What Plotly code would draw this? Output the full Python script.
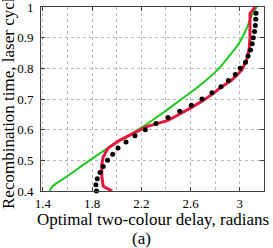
import plotly.graph_objects as go

# Green curve
green_x = [1.452, 1.465, 1.48, 1.60, 1.78, 1.94, 2.19, 2.351, 2.514, 2.677, 2.82, 2.92, 3.0, 3.056, 3.097, 3.138]
green_y = [0.40, 0.408, 0.416, 0.449, 0.500, 0.543, 0.604, 0.648, 0.696, 0.745, 0.795, 0.843, 0.886, 0.93, 0.973, 1.0]

# Red curve
red_x = [1.962, 1.89, 1.878, 1.878, 1.89, 1.93, 2.026, 2.134, 2.243, 2.417, 2.512, 2.606, 2.693, 2.774, 2.847,
         2.935, 3.016, 3.056, 3.077, 3.083, 3.083, 3.124]
red_y = [0.40, 0.415, 0.45, 0.485, 0.512, 0.54, 0.566, 0.588, 0.61, 0.63, 0.65, 0.672, 0.693, 0.715, 0.738,
         0.762, 0.794, 0.827, 0.865, 0.897, 0.979, 1.0]

# Black dots
dot_y = [0.40, 0.42, 0.44, 0.46, 0.48, 0.50, 0.52, 0.54, 0.56, 0.58, 0.60, 0.62, 0.64, 0.66, 0.68,
         0.70, 0.72, 0.74, 0.76, 0.78, 0.80, 0.82, 0.84, 0.86, 0.88, 0.90, 0.92, 0.94, 0.96, 0.98]
dot_x = [1.835, 1.83, 1.842, 1.864, 1.89, 1.925, 1.967, 2.01, 2.075, 2.148, 2.232, 2.319, 2.417, 2.512, 2.606,
         2.693, 2.774, 2.847, 2.908, 2.963, 3.004, 3.047, 3.067, 3.087, 3.101, 3.11, 3.12, 3.126, 3.13, 3.132]

x_ticks = [1.4, 1.8, 2.2, 2.6, 3.0]
x_tick_labels = ["1.4", "1.8", "2.2", "2.6", "3"]
y_ticks = [0.4, 0.5, 0.6, 0.7, 0.8, 0.9, 1.0]
y_tick_labels = ["0.4", "0.5", "0.6", "0.7", "0.8", "0.9", "1"]

FONT = "Liberation Serif, Times New Roman, serif"

fig = go.Figure()
fig.add_trace(go.Scatter(x=green_x, y=green_y, mode="lines",
                         line=dict(color="#1ec81e", width=2), line_shape="spline"))
fig.add_trace(go.Scatter(x=red_x, y=red_y, mode="lines",
                         line=dict(color="#e8153c", width=3)))
fig.add_trace(go.Scatter(x=dot_x, y=dot_y, mode="markers", cliponaxis=False,
                         marker=dict(color="black", size=5)))

grid = dict(gridcolor="#b8b8b8", griddash="dot", gridwidth=1)
fig.update_layout(
    width=273, height=248,
    margin=dict(l=41, r=9, t=7, b=57, autoexpand=False),
    paper_bgcolor="white", plot_bgcolor="white",
    showlegend=False,
    font=dict(family=FONT, size=13, color="black"),
    xaxis=dict(range=[1.384, 3.197], tickvals=x_ticks, ticktext=x_tick_labels,
               automargin=False, ticklabeloverflow="allow",
               showline=True, linecolor="#404040", linewidth=1, mirror="ticks",
               ticks="inside", ticklen=4, tickcolor="#404040",
               ticklabelstandoff=0, zeroline=False,
               minor=dict(dtick=0.2, tick0=1.4, showgrid=True, ticks="", **grid),
               **grid),
    yaxis=dict(range=[0.4, 1.0], tickvals=y_ticks, ticktext=y_tick_labels,
               automargin=False, ticklabeloverflow="allow",
               showline=True, linecolor="#404040", linewidth=1, mirror="ticks",
               ticks="inside", ticklen=4, tickcolor="#404040",
               ticklabelstandoff=4, zeroline=False, **grid),
    annotations=[
        dict(text="Optimal two-colour delay, radians", xref="paper", yref="paper",
             x=0.5, y=0, yshift=-28, xanchor="center", yanchor="middle",
             showarrow=False, font=dict(family=FONT, size=17)),
        dict(text="(a)", xref="paper", yref="paper",
             x=(141 - 41) / 223, y=0, yshift=-47, xanchor="center", yanchor="middle",
             showarrow=False, font=dict(family=FONT, size=17)),
        dict(text="Recombination time, laser cycles", xref="paper", yref="paper",
             x=0, xshift=-33, y=0.5, yshift=3, xanchor="center", yanchor="middle",
             textangle=-90, showarrow=False, font=dict(family=FONT, size=17)),
    ],
)

fig.write_html("out.html", config={"displayModeBar": False},
               post_script="document.body.style.margin='0';document.body.style.overflow='hidden';")
